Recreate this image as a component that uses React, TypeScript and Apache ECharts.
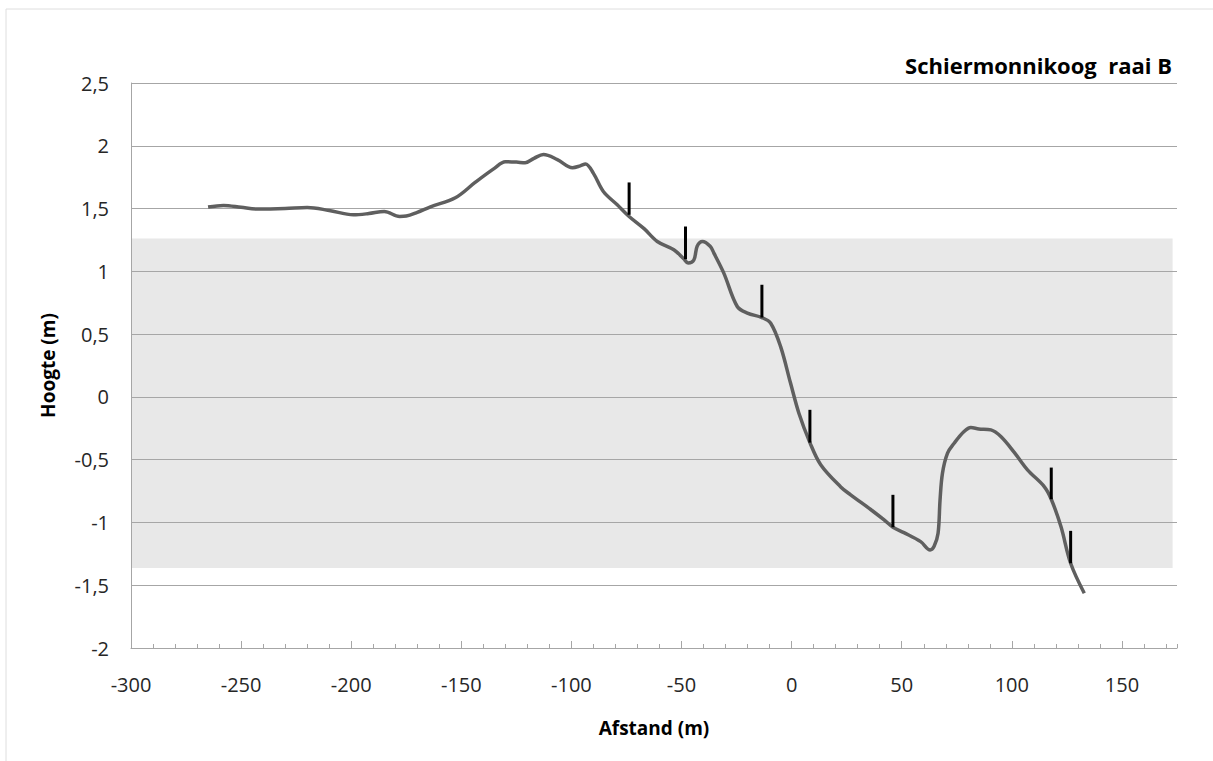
import React, { useEffect, useRef } from "react";
import * as echarts from "echarts";

// Profile: distance (m) and height (m)
const profileX = [
  -265, -258, -250, -243, -230, -220, -210, -199, -192, -185, -178, -175, -170, -164,
  -152.7, -143.6, -135, -130, -125, -121, -117, -112.7, -106.4, -99.5, -96, -93.6,
  -90, -85.5, -79.2, -73.8, -67, -61, -53.5, -49, -47, -44.4, -42.9, -40.5, -37,
  -35.3, -30.8, -24.7, -20.1, -13.5, -9.5, -5, -0.5, 3.3, 8.3, 13.2, 22.3, 26.8,
  35.9, 42, 46, 51, 58.6, 62.9, 64.7, 66.5, 67.4, 68.5, 70.8, 73.8, 78.3, 81.4,
  85, 90.5, 95, 101, 107.1, 114.7, 117.9, 122.3, 126.7, 132.9,
];
const profileY = [
  1.512, 1.525, 1.51, 1.496, 1.5, 1.509, 1.485, 1.45, 1.46, 1.477, 1.437, 1.44, 1.47, 1.514,
  1.586, 1.71, 1.82, 1.873, 1.87, 1.865, 1.9, 1.93, 1.89, 1.825, 1.84, 1.855,
  1.78, 1.636, 1.53, 1.437, 1.34, 1.238, 1.172, 1.1, 1.066, 1.09, 1.2, 1.238, 1.2,
  1.145, 0.986, 0.72, 0.667, 0.632, 0.587, 0.4, 0.11, -0.13, -0.364, -0.54, -0.717, -0.78,
  -0.897, -0.98, -1.038, -1.081, -1.153, -1.219, -1.19, -1.086, -0.82, -0.607, -0.448, -0.369, -0.276, -0.244,
  -0.255, -0.263, -0.316, -0.44, -0.581, -0.714, -0.815, -1.033, -1.325, -1.564,
];

// Vertical markers
const markerX = [-73.8, -48.2, -13.5, 8.3, 46, 117.9, 126.7];
const markerLow = [1.45, 1.097, 0.632, -0.364, -1.038, -0.815, -1.325];
const markerHigh = [1.708, 1.357, 0.893, -0.103, -0.78, -0.563, -1.067];

// Grey band
const bandX = [-300, 173];
const bandY = [-1.362, 1.262];

const xTicks = { min: -300, max: 175, major: 50, minor: 10 };
const yTicks = { min: -2, max: 2.5, step: 0.5 };

const FONT = "'Open Sans', sans-serif";

export default function App() {
  const ref = useRef<HTMLDivElement>(null);

  useEffect(() => {
    if (!ref.current) return;
    const chart = echarts.init(ref.current, undefined, { renderer: "svg" });
    const profile = profileX.map((x, i) => [x, profileY[i]]);
    const markers = markerX.map((x, i) => [x, markerLow[i], markerHigh[i]]);

    chart.setOption({
      animation: false,
      backgroundColor: "#ffffff",
      title: {
        text: "Schiermonnikoog  raai B",
        right: 36,
        top: 49,
        textStyle: { fontFamily: FONT, fontSize: 22, fontWeight: "bold", color: "#000" },
      },
      graphic: [
        {
          type: "rect",
          shape: { x: 6, y: 9, width: 1250, height: 800 },
          style: { fill: "none", stroke: "#dedede", lineWidth: 1 },
          silent: true,
        },
      ],
      grid: { left: 131, right: 36, top: 83, bottom: 113 },
      xAxis: [
        {
          type: "value",
          min: xTicks.min,
          max: xTicks.max,
          interval: xTicks.major,
          name: "Afstand (m)",
          nameLocation: "middle",
          nameGap: 70,
          nameTextStyle: { fontFamily: FONT, fontSize: 19, fontWeight: "bold", color: "#000" },
          axisLine: { show: true, onZero: false, lineStyle: { color: "#a6a6a6", width: 1 } },
          axisTick: { show: true, inside: true, length: 7, lineStyle: { color: "#a6a6a6" } },
          axisLabel: {
            margin: 26,
            showMaxLabel: false,
            fontFamily: FONT,
            fontSize: 20,
            color: "#262626",
          },
          splitLine: { show: false },
        },
        {
          type: "value",
          min: xTicks.min,
          max: xTicks.max,
          interval: xTicks.minor,
          position: "bottom",
          axisLine: { show: false, onZero: false },
          axisTick: { show: true, inside: true, length: 4, lineStyle: { color: "#a6a6a6" } },
          axisLabel: { show: false },
          splitLine: { show: false },
        },
      ],
      yAxis: {
        type: "value",
        min: yTicks.min,
        max: yTicks.max,
        interval: yTicks.step,
        name: "Hoogte (m)",
        nameLocation: "middle",
        nameGap: 74,
        nameTextStyle: { fontFamily: FONT, fontSize: 19, fontWeight: "bold", color: "#000" },
        axisLine: { show: true, onZero: false, lineStyle: { color: "#a6a6a6", width: 1 } },
        axisTick: { show: false },
        axisLabel: {
          margin: 22,
          fontFamily: FONT,
          fontSize: 20,
          color: "#262626",
          formatter: (v: number) => String(v).replace(".", ","),
        },
        splitLine: { show: true, lineStyle: { color: "#a6a6a6", width: 1 } },
      },
      series: [
        {
          type: "custom",
          z: -1,
          silent: true,
          data: [[bandX[0], bandY[0], bandX[1], bandY[1]]],
          renderItem: (params: any, api: any) => {
            const p0 = api.coord([api.value(0), api.value(1)]);
            const p1 = api.coord([api.value(2), api.value(3)]);
            return {
              type: "rect",
              shape: {
                x: p0[0],
                y: p1[1],
                width: p1[0] - p0[0],
                height: p0[1] - p1[1],
              },
              style: { fill: "#e8e8e8" },
            };
          },
        },
        {
          type: "line",
          data: profile,
          smooth: 0.35,
          symbol: "none",
          z: 3,
          lineStyle: { color: "#5f5f5f", width: 3.5 },
        },
        {
          type: "custom",
          z: 4,
          silent: true,
          data: markers,
          renderItem: (params: any, api: any) => {
            const a = api.coord([api.value(0), api.value(1)]);
            const b = api.coord([api.value(0), api.value(2)]);
            return {
              type: "line",
              shape: { x1: a[0], y1: a[1], x2: b[0], y2: b[1] },
              style: { stroke: "#000", lineWidth: 3 },
            };
          },
        },
      ],
    });

    return () => chart.dispose();
  }, []);

  return (
    <div
      ref={ref}
      style={{ position: "fixed", left: 0, top: 0, width: 1213, height: 761 }}
    />
  );
}
